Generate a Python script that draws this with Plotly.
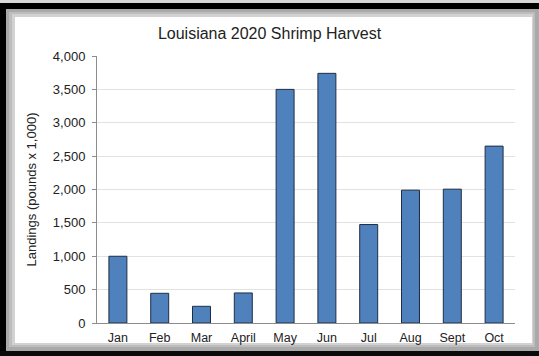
import plotly.graph_objects as go

months = ["Jan", "Feb", "Mar", "April", "May", "Jun", "Jul", "Aug", "Sept", "Oct"]
landings = [1000, 445, 250, 450, 3500, 3740, 1475, 1990, 2005, 2650]
y_ticks = [0, 500, 1000, 1500, 2000, 2500, 3000, 3500, 4000]
y_tick_text = ["0", "500", "1,000", "1,500", "2,000", "2,500", "3,000", "3,500", "4,000"]

W, H = 539, 356
FONT = "Liberation Sans, Arial, sans-serif"

fig = go.Figure()
fig.add_trace(go.Bar(
    x=months, y=landings,
    marker=dict(color="#4F81BD", line=dict(color="#1f2d45", width=1)),
    width=0.43,
))

L, R, T, B = 97, 24, 56, 33
pw = W - L - R
ph = H - T - B

def prect(x0, y0, x1, y1, color):
    # convert pixel coords into paper coords relative to plot area
    return dict(type="rect", xref="paper", yref="paper", layer="below",
                x0=(x0 - L) / pw, x1=(x1 - L) / pw,
                y0=(H - B - y1) / ph, y1=(H - B - y0) / ph,
                fillcolor=color, line=dict(width=0))

shapes = [
    prect(0, 0, W, H, "#a9a9a9"),
    prect(0, 0, W, 3, "#d8d8d8"),
    prect(0, 3, W, 9, "#000000"),
    prect(0, 3, 6, H, "#000000"),
    prect(0, 351, W, H, "#0a0a0a"),
    prect(9, 12, 535, 347, "#bdbdbd"),
    prect(12, 14, 533, 345, "#d2d2d2"),
    prect(15, 17, 532, 343, "#ffffff"),
]

fig.update_layout(
    width=W, height=H,
    margin=dict(l=L, r=R, t=T, b=B, pad=0),
    paper_bgcolor="rgba(0,0,0,0)",
    plot_bgcolor="rgba(0,0,0,0)",
    shapes=shapes,
    showlegend=False,
    bargap=0.57,
    title=dict(text="Louisiana 2020 Shrimp Harvest", x=0.5, xanchor="center",
               y=1 - 33 / H, yanchor="middle",
               font=dict(family=FONT, size=16, color="#222222")),
    font=dict(family=FONT, color="#222222"),
)
fig.update_xaxes(
    showline=True, linecolor="#8c8c8c", linewidth=1,
    ticks="", showgrid=False,
    tickfont=dict(family=FONT, size=12.5, color="#222222"),
    ticklabelstandoff=3,
)
fig.update_yaxes(
    range=[0, 4000], tickvals=y_ticks, ticktext=y_tick_text,
    showline=True, linecolor="#8c8c8c", linewidth=1,
    ticks="outside", ticklen=4, tickcolor="#8c8c8c",
    showgrid=True, gridcolor="#e2e2e2", gridwidth=1,
    zeroline=False,
    tickfont=dict(family=FONT, size=13, color="#222222"),
    ticklabelstandoff=4,
    title=dict(text="Landings (pounds x 1,000)", standoff=13,
               font=dict(family=FONT, size=13, color="#222222")),
)

fig.write_html("out.html")
